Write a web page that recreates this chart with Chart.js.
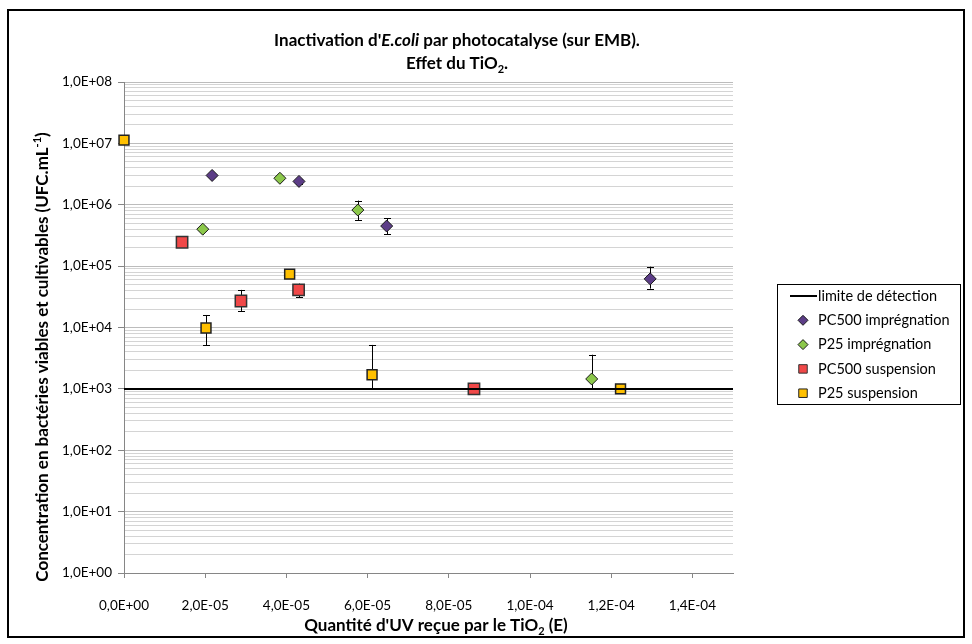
<!DOCTYPE html>
<html>
<head>
<meta charset="utf-8">
<script src="https://cdn.jsdelivr.net/npm/chart.js@4.4.0/dist/chart.umd.min.js"></script>
<style>
  html, body { margin: 0; padding: 0; background: #fff; }
</style>
</head>
<body>
<canvas id="chart" width="972" height="644"></canvas>
<script>
// Quantité d'UV (E) / concentration (UFC/mL)
const pc500ImpX = [2.17e-5, 4.31e-5, 6.47e-5, 1.296e-4];
const pc500ImpY = [3.0e6, 2.4e6, 4.5e5, 6.2e4];
const pc500ImpLow = [3.0e6, 2.2e6, 3.3e5, 4.3e4];
const pc500ImpHigh = [3.0e6, 2.6e6, 6.0e5, 9.8e4];

const p25ImpX = [1.94e-5, 3.84e-5, 5.76e-5, 1.152e-4];
const p25ImpY = [4.0e5, 2.7e6, 8.2e5, 1.45e3];
const p25ImpLow = [3.8e5, 2.6e6, 5.6e5, 1.0e3];
const p25ImpHigh = [4.2e5, 2.8e6, 1.17e6, 3.6e3];

const pc500SusX = [1.43e-5, 2.88e-5, 4.30e-5, 8.62e-5];
const pc500SusY = [2.45e5, 2.7e4, 4.1e4, 1.0e3];
const pc500SusLow = [2.2e5, 1.86e4, 3.1e4, 1.0e3];
const pc500SusHigh = [2.75e5, 4.1e4, 5.2e4, 1.0e3];

const p25SusX = [0, 2.02e-5, 4.08e-5, 6.11e-5, 1.223e-4];
const p25SusY = [1.13e7, 9.8e3, 7.4e4, 1.7e3, 1.0e3];
const p25SusLow = [1.08e7, 5.1e3, 6.6e4, 1.0e3, 1.0e3];
const p25SusHigh = [1.18e7, 1.6e4, 8.0e4, 5.2e3, 1.0e3];

const detectionLimit = 1000;
const limitX = [0, 1.5e-4];

const xTickValues = [0, 2e-5, 4e-5, 6e-5, 8e-5, 1e-4, 1.2e-4, 1.4e-4];
const xMax = 1.5e-4;
const yExponents = [0, 1, 2, 3, 4, 5, 6, 7, 8];
const yMultipliers = [1, 2, 3, 4, 5, 6, 7, 8, 9];

const FONT = 'Lato, "Open Sans", sans-serif';

// all grid lines of the log axis: 1..9 x 10^n
const yTickValues = [];
yExponents.forEach(e => {
  if (e === yExponents[yExponents.length - 1]) {
    yTickValues.push(Math.pow(10, e));
  } else {
    yMultipliers.forEach(m => yTickValues.push(m * Math.pow(10, e)));
  }
});

function isDecade(v) {
  const l = Math.log10(v);
  return Math.abs(l - Math.round(l)) < 1e-9;
}

// Excel style "1,0E+03"
function fmtSci(v) {
  if (v === 0) return '0,0E+00';
  let e = Math.floor(Math.log10(v) + 1e-9);
  const m = v / Math.pow(10, e);
  const sign = e < 0 ? '-' : '+';
  e = Math.abs(e);
  return m.toFixed(1).replace('.', ',') + 'E' + sign + (e < 10 ? '0' : '') + e;
}

function points(xs, ys) {
  return xs.map((x, i) => ({ x: x, y: ys[i] }));
}

// text made of pieces: {t, italic, shift: 'sub'|'sup'}
function drawRich(ctx, parts, cx, cy, size) {
  const fontFor = p => {
    const s = p.shift ? Math.round(size * 0.65) : size;
    return (p.italic ? 'italic ' : '') + 'bold ' + s + 'px ' + FONT;
  };
  let total = 0;
  parts.forEach(p => { ctx.font = fontFor(p); total += ctx.measureText(p.t).width; });
  let x = cx - total / 2;
  ctx.textBaseline = 'middle';
  ctx.textAlign = 'left';
  parts.forEach(p => {
    ctx.font = fontFor(p);
    let dy = 0;
    if (p.shift === 'sub') dy = size * 0.3;
    if (p.shift === 'sup') dy = -size * 0.35;
    ctx.fillText(p.t, x, cy + dy);
    x += ctx.measureText(p.t).width;
  });
}

const errorBars = {
  id: 'errorBars',
  beforeDatasetsDraw(chart) {
    const ctx = chart.ctx;
    const xs = chart.scales.x, ys = chart.scales.y;
    ctx.save();
    ctx.strokeStyle = '#000';
    ctx.lineWidth = 1;
    chart.data.datasets.forEach(ds => {
      if (!ds.errLow) return;
      ds.data.forEach((p, j) => {
        const px = Math.round(xs.getPixelForValue(p.x)) + 0.5;
        const yLo = ys.getPixelForValue(ds.errLow[j]);
        const yHi = ys.getPixelForValue(ds.errHigh[j]);
        if (yLo - yHi < 1) return;
        ctx.beginPath();
        ctx.moveTo(px, yLo);
        ctx.lineTo(px, yHi);
        ctx.moveTo(px - 3.5, Math.round(yLo) + 0.5);
        ctx.lineTo(px + 3.5, Math.round(yLo) + 0.5);
        ctx.moveTo(px - 3.5, Math.round(yHi) + 0.5);
        ctx.lineTo(px + 3.5, Math.round(yHi) + 0.5);
        ctx.stroke();
      });
    });
    ctx.restore();
  }
};

const decorations = {
  id: 'decorations',
  beforeDraw(chart) {
    const ctx = chart.ctx;
    ctx.save();
    ctx.fillStyle = '#fff';
    ctx.fillRect(0, 0, chart.width, chart.height);
    ctx.strokeStyle = '#000';
    ctx.lineWidth = 2;
    ctx.strokeRect(8, 10, 956, 627);
    ctx.restore();
  },
  afterDraw(chart) {
    const ctx = chart.ctx;
    ctx.save();
    ctx.fillStyle = '#000';
    // titre
    drawRich(ctx, [
      { t: "Inactivation d'" },
      { t: 'E.coli', italic: true },
      { t: ' par photocatalyse (sur EMB).' }
    ], 457, 41, 17);
    drawRich(ctx, [
      { t: 'Effet du TiO' }, { t: '2', shift: 'sub' }, { t: '.' }
    ], 457, 64, 17);
    // titre axe x
    drawRich(ctx, [
      { t: "Quantité d'UV reçue par le TiO" }, { t: '2', shift: 'sub' }, { t: ' (E)' }
    ], 436, 626, 17);
    // titre axe y
    ctx.save();
    ctx.translate(43, 357);
    ctx.rotate(-Math.PI / 2);
    drawRich(ctx, [
      { t: 'Concentration en bactéries viables et cultivables (UFC.mL' },
      { t: '-1', shift: 'sup' }, { t: ')' }
    ], 0, 0, 17);
    ctx.restore();

    // légende
    ctx.strokeStyle = '#000';
    ctx.lineWidth = 1;
    ctx.strokeRect(777.5, 284.5, 183, 120);
    ctx.font = '14.5px ' + FONT;
    ctx.textBaseline = 'middle';
    ctx.textAlign = 'left';
    chart.data.datasets.forEach((ds, i) => {
      const y = 296 + i * 24.3;
      if (ds.type === 'line') {
        ctx.strokeStyle = ds.borderColor;
        ctx.lineWidth = 2;
        ctx.beginPath();
        ctx.moveTo(790, y);
        ctx.lineTo(817, y);
        ctx.stroke();
      } else {
        ctx.fillStyle = ds.backgroundColor;
        ctx.strokeStyle = ds.borderColor;
        ctx.lineWidth = 1;
        Chart.helpers.drawPoint(ctx, {
          pointStyle: ds.pointStyle,
          radius: ds.pointStyle === 'rect' ? 6 : 5,
          borderWidth: 1,
          rotation: 0
        }, 803, y);
      }
      ctx.fillStyle = '#000';
      ctx.fillText(ds.label, 818, y);
    });
    ctx.restore();
  }
};

new Chart(document.getElementById('chart'), {
  data: {
    datasets: [
      {
        type: 'line',
        label: 'limite de détection',
        data: points(limitX, limitX.map(() => detectionLimit)),
        borderColor: '#000',
        borderWidth: 2,
        pointRadius: 0,
        clip: false
      },
      {
        type: 'scatter',
        label: 'PC500 imprégnation',
        data: points(pc500ImpX, pc500ImpY),
        errLow: pc500ImpLow,
        errHigh: pc500ImpHigh,
        pointStyle: 'rectRot',
        pointRadius: 6,
        backgroundColor: '#5c3d87',
        borderColor: '#1a1a1a',
        borderWidth: 1,
        clip: false
      },
      {
        type: 'scatter',
        label: 'P25 imprégnation',
        data: points(p25ImpX, p25ImpY),
        errLow: p25ImpLow,
        errHigh: p25ImpHigh,
        pointStyle: 'rectRot',
        pointRadius: 6,
        backgroundColor: '#8cc84b',
        borderColor: '#1a1a1a',
        borderWidth: 1,
        clip: false
      },
      {
        type: 'scatter',
        label: 'PC500 suspension',
        data: points(pc500SusX, pc500SusY),
        errLow: pc500SusLow,
        errHigh: pc500SusHigh,
        pointStyle: 'rect',
        pointRadius: 8,
        backgroundColor: '#f04848',
        borderColor: '#333',
        borderWidth: 1.5,
        clip: false
      },
      {
        type: 'scatter',
        label: 'P25 suspension',
        data: points(p25SusX, p25SusY),
        errLow: p25SusLow,
        errHigh: p25SusHigh,
        pointStyle: 'rect',
        pointRadius: 7,
        backgroundColor: '#ffc000',
        borderColor: '#222',
        borderWidth: 1.5,
        clip: false
      }
    ]
  },
  options: {
    responsive: false,
    animation: false,
    devicePixelRatio: 1,
    events: [],
    layout: { padding: { top: 82, right: 239, bottom: 0, left: 0 } },
    plugins: {
      legend: { display: false },
      tooltip: { enabled: false },
      title: { display: false }
    },
    scales: {
      x: {
        type: 'linear',
        min: 0,
        max: xMax,
        afterBuildTicks: scale => { scale.ticks = xTickValues.map(v => ({ value: v })); },
        afterFit: scale => { scale.height = 71; },
        border: { display: true, color: '#868686', width: 1 },
        grid: {
          drawOnChartArea: false,
          drawTicks: true,
          tickLength: 5,
          color: '#868686'
        },
        ticks: {
          padding: 20,
          autoSkip: false,
          maxRotation: 0,
          color: '#000',
          font: { family: FONT, size: 13.5 },
          callback: v => fmtSci(v)
        }
      },
      y: {
        type: 'logarithmic',
        min: 1,
        max: 1e8,
        afterBuildTicks: scale => { scale.ticks = yTickValues.map(v => ({ value: v, major: false })); },
        afterFit: scale => { scale.width = 124; },
        border: { display: true, color: '#868686', width: 1 },
        grid: {
          drawTicks: true,
          tickLength: 6,
          color: c => (c.tick && isDecade(c.tick.value)) ? '#bcbcbc' : '#d4d4d4',
          tickColor: c => (c.tick && isDecade(c.tick.value)) ? '#868686' : 'rgba(0,0,0,0)'
        },
        ticks: {
          padding: 6,
          autoSkip: false,
          color: '#000',
          font: { family: FONT, size: 13.5 },
          callback: v => isDecade(v) ? fmtSci(v) : ''
        }
      }
    }
  },
  plugins: [decorations, errorBars]
});
</script>
</body>
</html>
